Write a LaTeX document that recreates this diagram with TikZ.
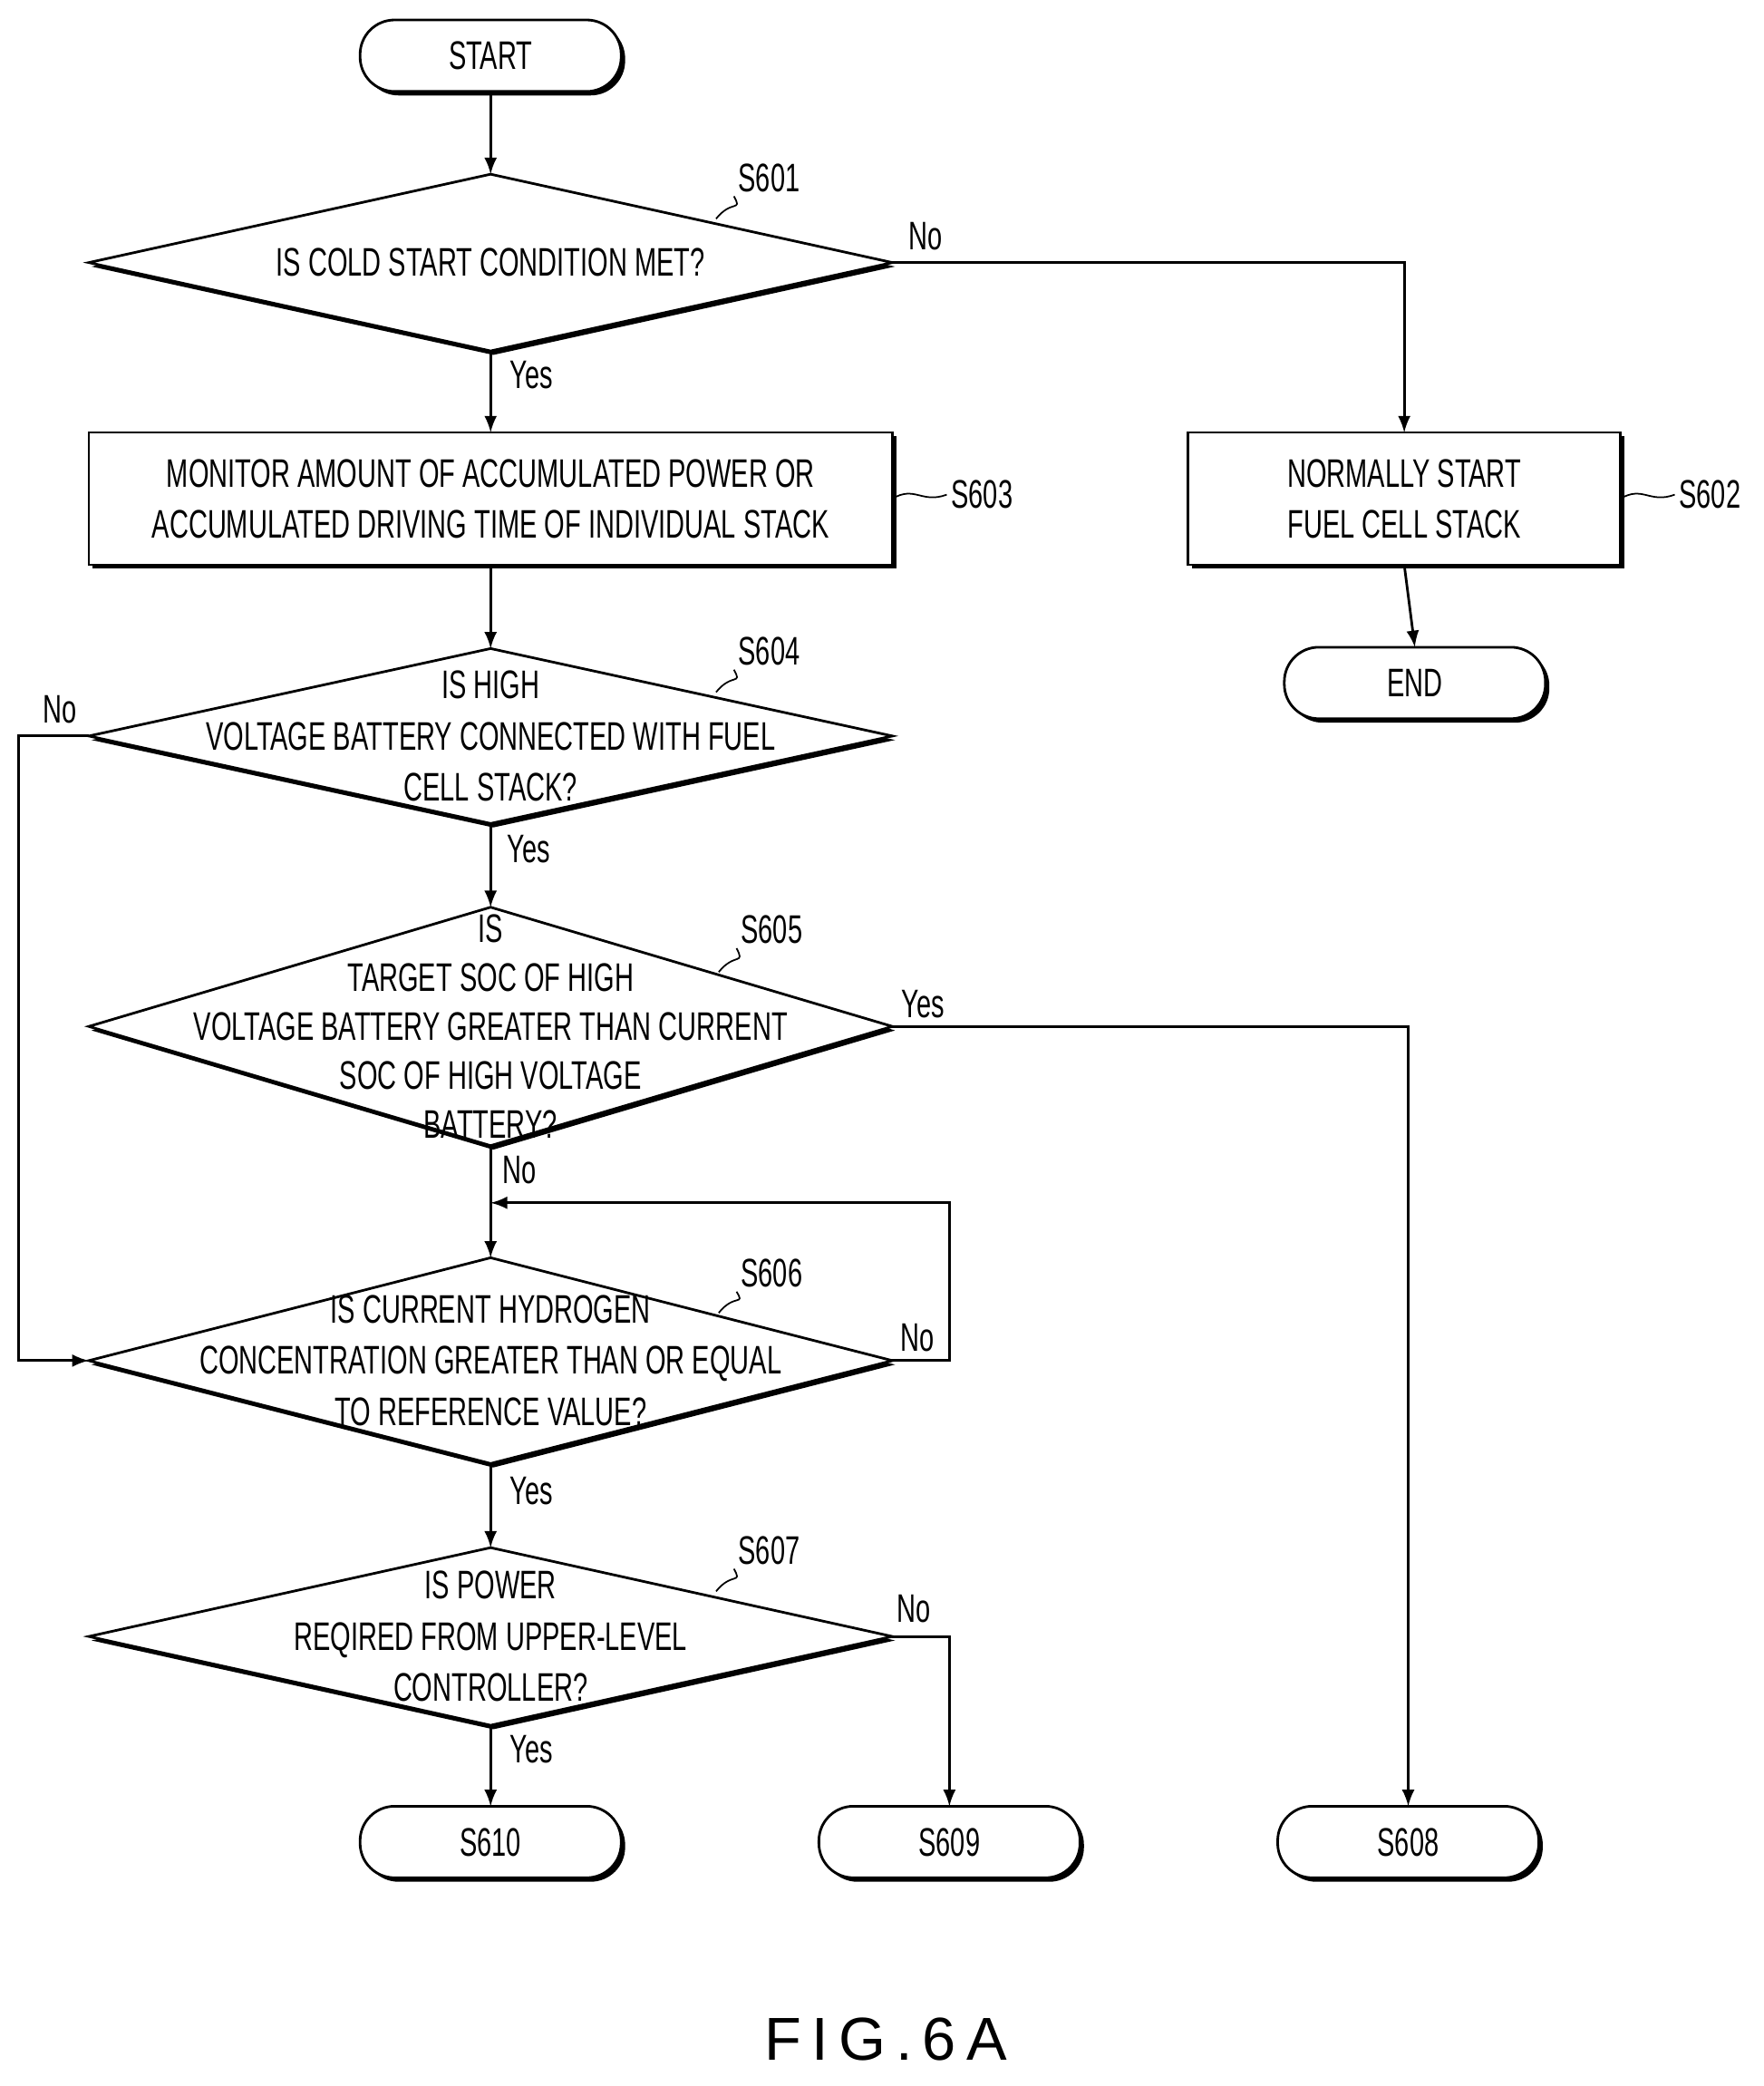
\documentclass[tikz,border=0pt]{standalone}
\usepackage{fontspec}
\setmainfont[FakeStretch=0.66]{Liberation Sans}
\newfontfamily\figfont{Liberation Sans}
\usetikzlibrary{calc}
\usetikzlibrary{positioning}

\begin{document}
\begin{tikzpicture}[x=0.014624cm, y=-0.014624cm,
    font=\fontsize{12.5}{16}\selectfont,
    line width=0.8pt,
    term/.style={rectangle, rounded corners=0.38cm, minimum width=2.85cm, minimum height=0.76cm, inner sep=0pt},
    box/.style={rectangle, minimum height=1.43cm, align=center, inner sep=0pt},
    dec/.style={rectangle, minimum width=8.83cm, align=center, inner sep=0pt},
    lab/.style={inner sep=1pt},
    arr/.style={-latex}
]
\useasboundingbox (0,0) rectangle (1330,1573);

% Shadowed outline of a node (rectangle or diamond)
\newcommand{\shadowbox}[1]{%
  \fill ($(#1.north west)+(3,3)$) [rounded corners=\rc] rectangle ($(#1.south east)+(3,3)$);
  \filldraw[fill=white] [rounded corners=\rc] (#1.north west) rectangle (#1.south east);}
\newcommand{\shadowdec}[1]{%
  \fill ($(#1.west)+(2,3)$) -- ($(#1.north)+(2,3)$) -- ($(#1.east)+(2,3)$) -- ($(#1.south)+(2,3)$) -- cycle;
  \filldraw[fill=white] (#1.west) -- (#1.north) -- (#1.east) -- (#1.south) -- cycle;}

% Nodes (placed first, outlines drawn after)
\node[term] (start) at (370,42) {};
\node[dec, minimum height=1.92cm] (s601) at (370,198) {};
\node[box, minimum width=8.83cm] (s603) at (370,376) {};
\node[box, minimum width=4.74cm] (s602) at (1059,376) {};
\node[term] (end) at (1067,515) {};
\node[dec, minimum height=1.90cm] (s604) at (370,555) {};
\node[dec, minimum height=2.60cm] (s605) at (370,774) {};
\node[dec, minimum height=2.24cm] (s606) at (370,1026) {};
\node[dec, minimum height=1.93cm] (s607) at (370,1234) {};
\node[term] (s610) at (370,1389) {};
\node[term] (s609) at (716,1389) {};
\node[term] (s608) at (1062,1389) {};

% Outlines
\def\rc{0.38cm}
\shadowbox{start} \shadowbox{end} \shadowbox{s610} \shadowbox{s609} \shadowbox{s608}
\def\rc{0pt}
\shadowbox{s603} \shadowbox{s602}
\shadowdec{s601} \shadowdec{s604} \shadowdec{s605} \shadowdec{s606} \shadowdec{s607}

% Texts
\node at (start) {START};
\node at (end) {END};
\node at (s610) {S610};
\node at (s609) {S609};
\node at (s608) {S608};
\node[align=center] at (s601) {IS COLD START CONDITION MET?};
\node[align=center] at (s603) {MONITOR AMOUNT OF ACCUMULATED POWER OR\\ACCUMULATED DRIVING TIME OF INDIVIDUAL STACK};
\node[align=center] at (s602) {NORMALLY START\\FUEL CELL STACK};
\node[align=center] at (s604) {IS HIGH\\VOLTAGE BATTERY CONNECTED WITH FUEL\\CELL STACK?};
\node[align=center, font=\fontsize{12.5}{15.4}\selectfont] at (s605) {IS\\TARGET SOC OF HIGH\\VOLTAGE BATTERY GREATER THAN CURRENT\\SOC OF HIGH VOLTAGE\\BATTERY?};
\node[align=center] at (s606) {IS CURRENT HYDROGEN\\CONCENTRATION GREATER THAN OR EQUAL\\TO REFERENCE VALUE?};
\node[align=center] at (s607) {IS POWER\\REQIRED FROM UPPER-LEVEL\\CONTROLLER?};

% Step labels with leaders
\node[lab] (l601) at (580,134) {S601};
\draw[line width=0.5pt] (540,165) .. controls (552,150) and (560,160) .. (l601.south west);
\node[lab] (l604) at (580,491) {S604};
\draw[line width=0.5pt] (540,522) .. controls (552,507) and (560,517) .. (l604.south west);
\node[lab] (l605) at (582,701) {S605};
\draw[line width=0.5pt] (542,733) .. controls (554,718) and (562,728) .. (l605.south west);
\node[lab] (l606) at (582,960) {S606};
\draw[line width=0.5pt] (542,990) .. controls (554,975) and (562,985) .. (l606.south west);
\node[lab] (l607) at (580,1169) {S607};
\draw[line width=0.5pt] (540,1200) .. controls (552,1185) and (560,1195) .. (l607.south west);
\node[lab, anchor=west] (l603) at (714,373) {S603};
\draw[line width=0.5pt] (s603.east) .. controls (690,366) and (695,380) .. (l603.west);
\node[lab, anchor=west] (l602) at (1263,373) {S602};
\draw[line width=0.5pt] (s602.east) .. controls (1239,366) and (1244,380) .. (l602.west);

% Connectors
\draw[arr] (start) -- (s601.north);
\draw[arr] (s601.south) -- (s603.north);
\draw[arr] (s601.east) -| (s602.north);
\draw[arr] (s602.south) -- (end.north);
\draw[arr] (s603.south) -- (s604.north);
\draw[arr] (s604.south) -- (s605.north);
\draw[arr] (s604.west) -- (14,555) |- (s606.west);
\draw[arr] (s605.east) -| (s608.north);
\draw[arr] (s605.south) -- (s606.north);
\coordinate (loop) at (370,907);
\draw[arr] (s606.east) -- (716,1026) |- (loop);
\draw[arr] (s606.south) -- (s607.north);
\draw[arr] (s607.south) -- (s610.north);
\draw[arr] (s607.east) -| (s609.north);

% Branch labels
\node at (401,283) {Yes};
\node at (698,178) {No};
\node at (45,535) {No};
\node at (399,640) {Yes};
\node at (696,757) {Yes};
\node at (392,882) {No};
\node at (692,1009) {No};
\node at (401,1124) {Yes};
\node at (689,1213) {No};
\node at (401,1319) {Yes};

\node[font=\figfont\fontsize{19}{22}\selectfont] (fig) at (668,1538) {F\,I\,G\,.\,6\,A};
\end{tikzpicture}
\end{document}
